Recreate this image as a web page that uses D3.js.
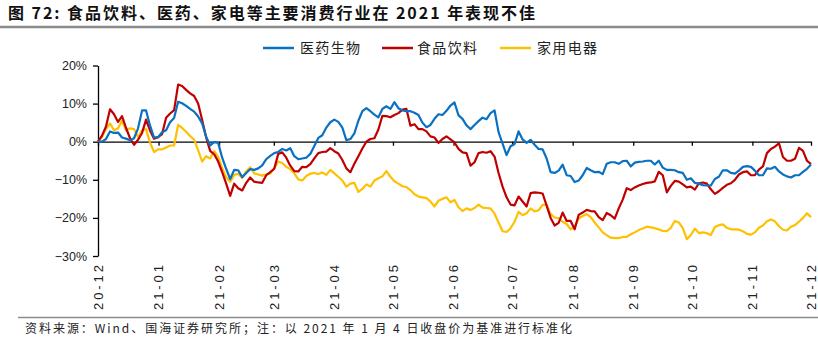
<!DOCTYPE html>
<html><head><meta charset="utf-8">
<script src="https://cdn.jsdelivr.net/npm/d3@7"></script>
<style>
html,body{margin:0;padding:0;background:#fff;}
svg{display:block;}
</style></head>
<body>
<svg id="chart" width="818" height="343"></svg>
<script>
const titleText = "图 72: 食品饮料、医药、家电等主要消费行业在 2021 年表现不佳";
const sourceText = "资料来源：Wind、国海证券研究所；注：以 2021 年 1 月 4 日收盘价为基准进行标准化";
const seriesNames = ["医药生物", "食品饮料", "家用电器"];
const seriesColors = ["#0a70c2", "#c00000", "#ffc000"];
const xTickLabels = ["20-12","21-01","21-02","21-03","21-04","21-05","21-06","21-07","21-08","21-09","21-10","21-11","21-12"];
const yTicks = [-30, -20, -10, 0, 10, 20];

// 医药生物
const pharma = [0,0,0.7,2.7,2.3,2.4,1.1,0.8,0.4,0.9,3.5,8.2,8.2,4.2,1.1,1.2,2.5,3.0,5.1,6.2,
10.5,10.1,9.4,8.6,7.9,6.6,4.8,1.3,-1.0,-0.1,-0.3,-4.2,-7.1,-9.8,-7.4,-7.5,-9.3,-8.2,-7.2,-7.4,
-7.0,-6.2,-4.6,-3.7,-3.0,-2.7,-1.9,-2.3,-1.7,-3.8,-4.6,-4.4,-4.2,-3.2,-1.1,1.0,1.7,3.7,5.1,5.8,
5.2,3.7,0.4,0.7,2.2,5.5,8.0,8.8,8.0,7.1,6.4,8.6,9.3,8.6,10.4,8.8,8.2,8.0,8.0,7.6,
7.0,5.0,3.8,4.4,6.0,7.2,7.0,8.1,9.5,10.3,6.9,6.0,4.3,3.3,4.4,5.4,6.3,5.9,7.5,8.2,
2.5,-0.5,-3.5,-1.2,-0.6,2.7,0.6,-0.3,0.5,-0.8,-1.9,-2.0,-4.4,-8.0,-8.2,-7.6,-6.0,-8.8,-9.0,-10.6,
-10.2,-8.8,-6.9,-7.5,-8.0,-7.9,-8.5,-5.8,-5.4,-5.4,-5.8,-5.1,-5.0,-6.5,-5.5,-5.3,-5.2,-5.0,-5.0,-6.0,
-5.0,-6.8,-7.4,-7.4,-7.5,-8.0,-8.2,-10.0,-9.6,-10.8,-11.0,-11.4,-11.5,-11.5,-9.8,-9.2,-7.5,-7.5,-8.2,-8.4,
-7.6,-6.6,-6.4,-6.6,-7.6,-8.8,-8.8,-7.0,-7.1,-6.6,-7.8,-8.6,-9.1,-9.4,-8.8,-8.8,-7.9,-7.1,-6.0];

// 食品饮料
const food = [0,1.6,4.0,8.5,7.2,5.2,6.7,3.6,0.9,-0.8,0.5,2.3,5.8,2.9,0.8,1.2,2.0,6.3,7.4,8.3,
15.0,14.6,13.6,12.7,12.0,10.0,5.7,1.1,-2.4,-3.3,-5.2,-8.0,-11.0,-14.2,-11.0,-12.2,-12.8,-10.8,-9.4,-10.5,
-10.7,-10.8,-8.8,-8.0,-7.1,-3.2,-2.8,-4.2,-6.3,-7.7,-7.8,-6.6,-6.7,-5.9,-4.4,-3.0,-2.7,-2.6,-1.7,-2.5,
-3.1,-4.8,-7.0,-8.0,-5.8,-3.8,-1.8,0.0,0.7,0.9,3.2,6.8,6.7,6.4,7.0,7.5,8.4,8.6,4.2,4.6,
3.3,3.3,2.7,1.4,1.1,-0.3,0.7,1.4,0.6,-0.2,-1.9,-2.8,-3.0,-6.3,-5.4,-3.0,-2.7,-2.9,-2.5,-3.9,
-8.2,-11.8,-14.6,-16.5,-16.7,-14.4,-15.7,-17.0,-13.5,-13.3,-13.4,-13.6,-16.8,-20.0,-22.0,-21.3,-18.6,-20.8,-20.8,-23.0,
-19.2,-18.6,-17.9,-18.2,-18.3,-19.8,-20.6,-18.7,-19.3,-20.2,-17.5,-15.2,-12.2,-12.7,-12.0,-11.5,-11.1,-10.8,-10.7,-10.4,
-7.9,-8.8,-13.3,-11.6,-10.3,-10.5,-11.2,-12.0,-11.8,-12.6,-10.9,-10.7,-11.0,-12.5,-13.7,-13.0,-12.1,-11.3,-10.9,-10.0,
-8.6,-8.0,-7.8,-8.8,-8.8,-7.3,-6.5,-3.0,-1.9,-1.3,-0.4,-4.0,-5.0,-5.0,-4.5,-1.6,-2.4,-5.0,-5.9];

// 家用电器
const appliance = [0,1.2,3.3,4.8,3.0,3.5,5.5,3.0,3.5,3.3,1.2,3.0,3.3,-0.3,-2.7,-2.0,-2.0,-1.5,-1.0,-1.0,
4.4,3.6,2.6,1.5,0.5,-2.2,-5.2,-3.8,-4.4,-2.5,-4.0,-6.9,-9.3,-10.5,-8.7,-8.4,-9.5,-7.8,-6.7,-8.3,
-8.6,-8.9,-8.6,-8.4,-7.0,-5.2,-5.6,-6.6,-7.2,-8.3,-9.9,-10.2,-9.0,-8.4,-8.2,-8.5,-8.1,-8.7,-7.4,-8.3,
-9.2,-10.2,-11.8,-11.0,-10.8,-13.2,-12.4,-11.2,-11.8,-10.2,-9.6,-9.1,-7.7,-9.2,-10.4,-11.0,-11.7,-11.9,-12.7,-13.8,
-14.4,-14.6,-14.8,-15.7,-17.0,-15.5,-15.0,-14.6,-15.9,-15.3,-17.2,-18.2,-17.5,-17.9,-17.4,-16.5,-17.3,-17.4,-17.5,-18.9,
-21.2,-23.5,-23.7,-22.7,-21.0,-18.4,-19.3,-18.8,-17.5,-18.3,-18.0,-16.6,-16.6,-19.0,-19.9,-20.1,-21.0,-21.6,-23.0,-22.2,
-20.2,-19.5,-19.0,-19.8,-21.2,-22.5,-23.8,-24.5,-25.2,-25.3,-25.3,-25.0,-25.0,-24.3,-23.8,-23.2,-22.8,-22.3,-22.5,-22.7,
-23.0,-23.4,-23.5,-22.6,-20.8,-21.2,-22.7,-25.6,-24.5,-22.8,-24.0,-23.8,-24.0,-24.5,-22.4,-21.9,-21.7,-22.6,-23.0,-23.0,
-23.1,-23.5,-24.2,-24.4,-23.8,-22.6,-22.0,-20.9,-20.4,-20.9,-22.2,-23.1,-23.3,-22.3,-21.9,-21.0,-20.0,-18.8,-19.8];

const seriesData = [pharma, food, appliance];

const svg = d3.select("#chart");
const startDate = new Date(2020, 11, 1);
const endDate = new Date(2021, 11, 1);
const N = pharma.length;
const dates = d3.range(N).map(i => new Date(+startDate + i * (endDate - startDate) / (N - 1)));

const x = d3.scaleTime().domain([startDate, endDate]).range([98, 811]);
const y = d3.scaleLinear().domain([-30, 20]).range([256, 65.5]);

// Title
svg.append("text").attr("x", 8).attr("y", 19)
  .attr("font-family", "'Noto Sans CJK SC', sans-serif").attr("font-weight", "bold")
  .attr("font-size", 16).attr("fill", "#111")
  .attr("textLength", 527).attr("lengthAdjust", "spacing")
  .text(titleText);
svg.append("line").attr("x1", 0).attr("x2", 818).attr("y1", 27).attr("y2", 27)
  .attr("stroke", "#8c8c8c").attr("stroke-width", 2.5);

// Legend
const legendPos = [{lx: 263, tx: 300}, {lx: 382, tx: 417}, {lx: 500, tx: 537}];
const legend = svg.append("g");
seriesNames.forEach((name, k) => {
  legend.append("line").attr("x1", legendPos[k].lx).attr("x2", legendPos[k].lx + 31)
    .attr("y1", 48).attr("y2", 48).attr("stroke", seriesColors[k]).attr("stroke-width", 2.5);
  legend.append("text").attr("x", legendPos[k].tx).attr("y", 53)
    .attr("font-family", "'Noto Sans CJK SC', sans-serif").attr("font-size", 14)
    .attr("fill", "#222").attr("textLength", 60).attr("lengthAdjust", "spacing")
    .text(name);
});

// Y axis
const yAxis = svg.append("g").attr("transform", "translate(98,0)")
  .call(d3.axisLeft(y).tickValues(yTicks).tickSize(5).tickSizeOuter(0).tickPadding(6)
    .tickFormat(d => d3.format("d")(d) + "%"));
yAxis.select(".domain").attr("stroke", "#000").attr("stroke-width", 1.3);
yAxis.selectAll(".tick line").attr("stroke", "#000").attr("stroke-width", 1.3);
yAxis.selectAll("text").attr("font-family", "'Liberation Sans', Arial, sans-serif")
  .attr("font-size", 12.5).attr("fill", "#222");

// X axis line at zero with ticks
const monthTicks = d3.timeMonth.range(startDate, d3.timeMonth.offset(endDate, 1));
const xAxis = svg.append("g").attr("transform", `translate(0,${y(0)})`)
  .call(d3.axisBottom(x).tickValues(monthTicks).tickSize(4).tickSizeOuter(0).tickFormat(""));
xAxis.select(".domain").attr("stroke", "#000").attr("stroke-width", 1.3);
xAxis.selectAll(".tick line").attr("stroke", "#000").attr("stroke-width", 1.3);

// X labels at bottom, rotated
const xLab = svg.append("g").attr("transform", "translate(0,265)")
  .call(d3.axisBottom(x).tickValues(monthTicks).tickSize(0)
    .tickFormat((d, i) => xTickLabels[i]));
xLab.select(".domain").remove();
xLab.selectAll("text")
  .attr("transform", "rotate(-90)")
  .attr("x", 0).attr("y", 0).attr("dy", "0.34em")
  .attr("text-anchor", "end")
  .attr("font-family", "'Liberation Sans', Arial, sans-serif")
  .attr("font-size", 13).attr("fill", "#222")
  .attr("textLength", 45).attr("lengthAdjust", "spacing");

// Lines
const line = d3.line().x((d, i) => x(dates[i])).y(d => y(d));
const drawOrder = [2, 1, 0];
drawOrder.forEach(k => {
  svg.append("path").datum(seriesData[k])
    .attr("d", line).attr("fill", "none")
    .attr("stroke", seriesColors[k]).attr("stroke-width", 2.2)
    .attr("stroke-linejoin", "round");
});

// Footer
svg.append("line").attr("x1", 18).attr("x2", 818).attr("y1", 317.5).attr("y2", 317.5)
  .attr("stroke", "#8c8c8c").attr("stroke-width", 1.5);
svg.append("text").attr("x", 25).attr("y", 333)
  .attr("font-family", "'Noto Sans CJK SC', sans-serif").attr("font-size", 12)
  .attr("fill", "#222").attr("textLength", 547).attr("lengthAdjust", "spacing")
  .text(sourceText);
</script>
</body></html>
